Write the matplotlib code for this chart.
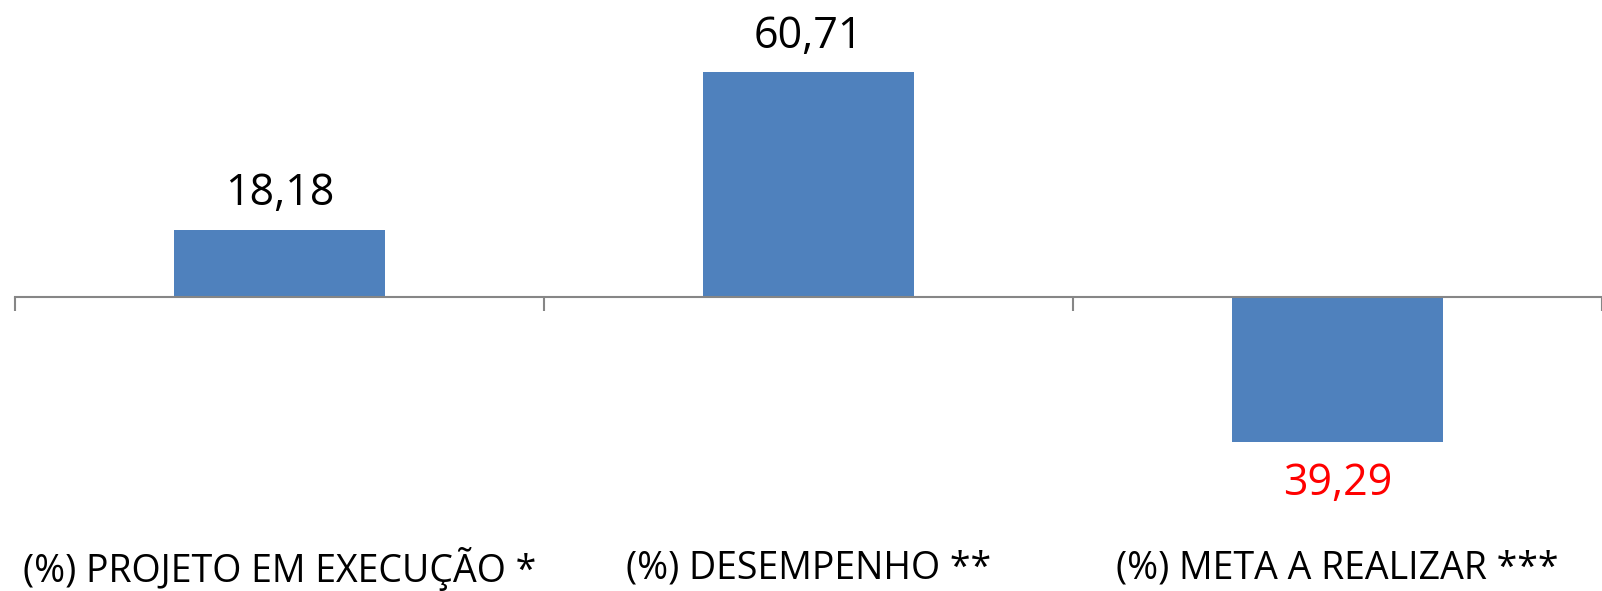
import matplotlib.pyplot as plt
from matplotlib.ticker import FixedLocator

categories = ["(%) PROJETO EM EXECUÇÃO *", "(%) DESEMPENHO **", "(%) META A REALIZAR ***"]
values = [18.18, 60.71, -39.29]
labels = ["18,18", "60,71", "39,29"]
label_colors = ["black", "black", "red"]

plt.rcParams['font.family'] = ['Open Sans', 'DejaVu Sans']

fig = plt.figure(figsize=(16.02, 5.91), dpi=100)
W, H = 1602, 591
ax = fig.add_axes([15 / W, (H - 500) / H, (1602 - 15) / W, 500 / H])

x = list(range(len(categories)))
ax.bar(x, values, width=0.4, color='#4F81BD', zorder=2)

ax.set_xlim(-0.5, 2.5)
ax.set_ylim(-54.9, 80.3)

for s in ['top', 'right', 'left']:
    ax.spines[s].set_visible(False)
ax.spines['bottom'].set_position(('data', 0))
ax.spines['bottom'].set_color('#868686')
ax.spines['bottom'].set_linewidth(1.5)
ax.set_yticks([])
ax.xaxis.set_major_locator(FixedLocator([-0.5, 0.5, 1.5, 2.5]))
ax.tick_params(axis='x', which='major', length=10, width=1.5, color='#868686',
               direction='out', labelbottom=False)

for xi, v, lab, c in zip(x, values, labels, label_colors):
    if v >= 0:
        ax.annotate(lab, (xi, v), xytext=(0, 10), textcoords='offset points',
                    ha='center', va='bottom', fontsize=31, color=c)
    else:
        ax.annotate(lab, (xi, v), xytext=(0, -14), textcoords='offset points',
                    ha='center', va='top', fontsize=31, color=c)

for xi, cat in zip(x, categories):
    ax.text(xi, -0.138, cat, transform=ax.get_xaxis_transform(),
            ha='center', va='center', fontsize=27)

plt.savefig('out.png', dpi=100)
plt.close()
